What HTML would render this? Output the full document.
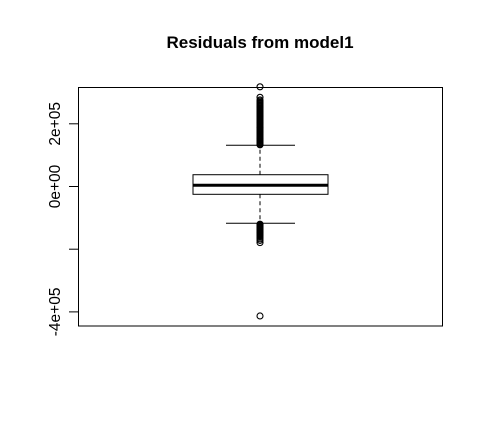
<!DOCTYPE html>
<html><head><meta charset="utf-8"><style>
html,body{margin:0;padding:0;background:#fff;}
svg{display:block;font-family:"Liberation Sans",Arial,sans-serif;}
</style></head><body>
<svg id="chart" width="483" height="424" viewBox="0 0 483 424">
<text x="260" y="48" text-anchor="middle" font-size="17" font-weight="bold">Residuals from model1</text>
<rect x="78.5" y="87.5" width="364" height="238.5" fill="none" stroke="#000" stroke-width="1"/>
<g id="axis"></g>
<g id="marks"></g>
</svg>
<script>
const tickValues = [-400000, -200000, 0, 200000];
const tickLabels = ["-4e+05", "", "0e+00", "2e+05"];
const boxStats = [-117400, -24900, 3800, 37600, 131400]; // lower whisker, Q1, median, Q3, upper whisker
const upperOutliers = [318000, 284500, 276000, 272000, 268000, 265000, 262000, 259000, 256000, 253000, 250000, 247000, 244000, 241000, 238000, 235000, 232000, 229000, 226000, 223000, 220000, 217000, 214000, 211000, 208000, 205000, 202000, 199000, 196000, 193000, 190000, 187000, 184000, 181000, 178000, 175000, 172000, 169000, 166000, 163000, 160000, 157000, 154000, 151000, 148000, 145000, 142000, 139000, 136000, 134000, 133000];
const lowerOutliers = [-120000, -122000, -124000, -126000, -128000, -130000, -132000, -134000, -136000, -138000, -140000, -142000, -144000, -146000, -148000, -150000, -152000, -155000, -158000, -162000, -167000, -172000, -179000];
const extremeOutliers = [-413000];

const NS = "http://www.w3.org/2000/svg";
function yScale(v){ return 186.5 - v / 3190; }
const cx = 260, boxL = 193, boxR = 328, capL = 226, capR = 295;
function mk(tag, attrs, parent){
  const e = document.createElementNS(NS, tag);
  for (const k in attrs) e.setAttribute(k, attrs[k]);
  parent.appendChild(e); return e;
}
const axis = document.getElementById('axis');
tickValues.forEach((v, i) => {
  const y = yScale(v);
  const t = mk('line', {x1: 69, x2: 78.5, y1: y, y2: y, stroke: '#000'}, axis);
  
  
  if (tickLabels[i]) {
    const tx = mk('text', {x: 0, y: 0, 'font-size': 15.5, 'text-anchor': 'middle', transform: `translate(60,${y}) rotate(-90)`}, axis);
    tx.textContent = tickLabels[i];
    
    
  }
});
const g = document.getElementById('marks');
const [lw, q1, med, q3, uw] = boxStats;
const w1 = mk('line', {x1: cx, x2: cx, y1: yScale(q3), y2: yScale(uw), stroke: '#000', 'stroke-dasharray': '4,3'}, g);


const w2 = mk('line', {x1: cx, x2: cx, y1: yScale(q1), y2: yScale(lw), stroke: '#000', 'stroke-dasharray': '4,3'}, g);


const c1 = mk('line', {x1: capL, x2: capR, y1: yScale(uw), y2: yScale(uw), stroke: '#000'}, g);


const c2 = mk('line', {x1: capL, x2: capR, y1: yScale(lw), y2: yScale(lw), stroke: '#000'}, g);


const box = mk('rect', {x: boxL, y: yScale(q3), width: boxR - boxL, height: yScale(q1) - yScale(q3), fill: '#fff', stroke: '#000'}, g);


const m = mk('line', {x1: boxL, x2: boxR, y1: yScale(med), y2: yScale(med), stroke: '#000', 'stroke-width': 3}, g);


[...upperOutliers, ...lowerOutliers, ...extremeOutliers].forEach(v => {
  const c = mk('circle', {cx: cx, cy: yScale(v), r: 3, fill: 'none', stroke: '#000', 'stroke-width': 1.1}, g);
  
  
});
</script>
</body></html>
